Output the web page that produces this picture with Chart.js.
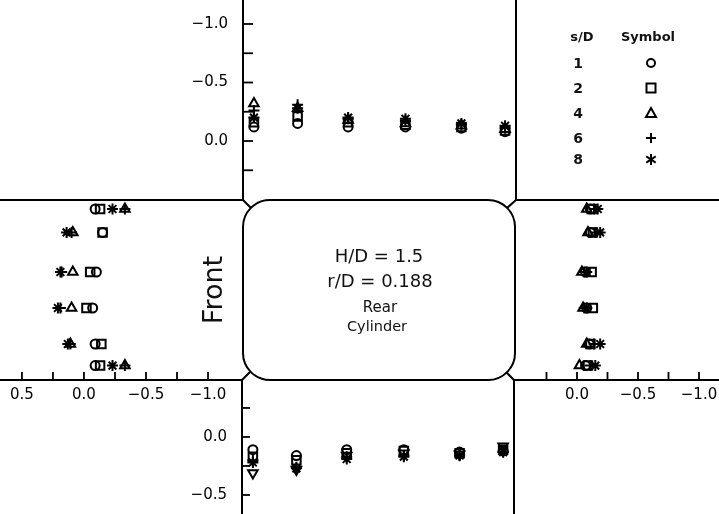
<!DOCTYPE html>
<html>
<head>
<meta charset="utf-8">
<script src="https://cdn.jsdelivr.net/npm/chart.js@4/dist/chart.umd.min.js"></script>
<style>
  html, body { margin: 0; padding: 0; background: #fff; }
  #wrap { position: relative; width: 719px; height: 514px; overflow: hidden; font-family: "DejaVu Sans", sans-serif; color: #111; }
  canvas { position: absolute; }
  svg { position: absolute; left: 0; top: 0; }
  .t { position: absolute; white-space: nowrap; transform: translate(-50%, -50%); }
</style>
</head>
<body>
<div id="wrap">
  <canvas id="topChart" width="323" height="200" style="left:193px;top:0px"></canvas>
  <canvas id="bottomChart" width="322" height="134" style="left:192px;top:380px"></canvas>
  <canvas id="frontChart" width="243" height="212" style="left:0px;top:200px"></canvas>
  <canvas id="rearChart" width="203" height="212" style="left:516px;top:200px"></canvas>

  <svg width="719" height="514" viewBox="0 0 719 514">
    <g fill="none" stroke="#000" stroke-width="2">
      <path d="M0,200 H243 M516,200 H719 M0,380 H242 M514,380 H719"/>
      <path d="M243,0 V200 M516,0 V200 M242,380 V514 M514,380 V514"/>
      <rect x="243" y="200" width="272" height="180" rx="27" ry="27"/>
      <path d="M243,200 L251,208 M516,200 L507,208 M242,380 L250,372 M514,380 L506,372"/>
    </g>
    <g fill="none" stroke="#000" stroke-width="2">
      <circle cx="651" cy="63" r="4"/>
      <rect x="646.5" y="83.5" width="9" height="9"/>
      <path d="M651,108 L656,117 L646,117 Z"/>
      <path d="M651,133 V143 M646,138 H656"/>
      <path d="M651,154 V165 M646.3,156.3 L655.7,162.7 M655.7,156.3 L646.3,162.7"/>
    </g>
  </svg>

  <div class="t" style="left:379px;top:255px;font-size:18px">H/D = 1.5</div>
  <div class="t" style="left:380px;top:280px;font-size:18px">r/D = 0.188</div>
  <div class="t" style="left:380px;top:307px;font-size:15px">Rear</div>
  <div class="t" style="left:377px;top:326px;font-size:14.5px">Cylinder</div>
  <div class="t" style="left:212px;top:290px;font-size:27px;transform:translate(-50%,-50%) rotate(-90deg)">Front</div>

  <div class="t" style="left:582px;top:36px;font-size:13px;font-weight:bold">s/D</div>
  <div class="t" style="left:648px;top:36px;font-size:13px;font-weight:bold">Symbol</div>
  <div id="legendNums"></div>
</div>

<script>
// series: s/D spacing ratio and the plotting symbol of each
const sD = ['1', '2', '4', '6', '8'];
const symbols = ['circle', 'rect', 'triangle', 'cross', 'star'];

// tap locations as fraction of face length (top/bottom faces: front->rear, side faces: top->bottom)
const faceStations = [0.04, 0.2, 0.385, 0.595, 0.8, 0.96];
const sideStations = [0.05, 0.18, 0.40, 0.60, 0.80, 0.92];

// mean Cp on the top face, one row per s/D
const topCp = [
  [-0.12, -0.15, -0.12, -0.12, -0.11, -0.08],
  [-0.16, -0.21, -0.16, -0.14, -0.12, -0.09],
  [-0.32, -0.28, -0.18, -0.15, -0.13, -0.10],
  [-0.26, -0.31, -0.19, -0.17, -0.14, -0.11],
  [-0.20, -0.28, -0.20, -0.19, -0.15, -0.13]
];
// bottom face
const bottomCp = [
  [-0.11, -0.16, -0.11, -0.11, -0.13, -0.12],
  [-0.17, -0.20, -0.14, -0.12, -0.14, -0.11],
  [-0.31, -0.28, -0.16, -0.14, -0.15, -0.08],
  [-0.20, -0.26, -0.17, -0.16, -0.16, -0.13],
  [-0.22, -0.27, -0.19, -0.17, -0.16, -0.13]
];
// front face (left)
const frontCp = [
  [-0.09, -0.15, -0.10, -0.07, -0.09, -0.09],
  [-0.13, -0.15, -0.05, -0.02, -0.14, -0.13],
  [-0.33, 0.09, 0.09, 0.10, 0.11, -0.33],
  [-0.33, 0.10, 0.18, 0.19, 0.11, -0.33],
  [-0.23, 0.14, 0.19, 0.21, 0.13, -0.23]
];
// rear face (right)
const rearCp = [
  [-0.11, -0.11, -0.07, -0.08, -0.10, -0.07],
  [-0.12, -0.13, -0.12, -0.13, -0.11, -0.09],
  [-0.08, -0.09, -0.04, -0.05, -0.08, -0.02],
  [-0.14, -0.15, -0.06, -0.06, -0.14, -0.11],
  [-0.17, -0.19, -0.08, -0.08, -0.19, -0.15]
];

// labelled ticks of each axis
const topTickLabels = [-1.0, -0.5, 0.0];
const bottomTickLabels = [0.0, -0.5];
const frontTickLabels = [0.5, 0.0, -0.5, -1.0];
const rearTickLabels = [0.0, -0.5, -1.0];

const markerRadius = [4.5, 6, 5.5, 5.5, 5.5];
const ink = '#000';
const tickFont = { family: 'DejaVu Sans', size: 15 };

// legend numbers
document.getElementById('legendNums').innerHTML = sD.map((s, i) =>
  `<div class="t" style="left:578px;top:${[63, 88, 113, 138, 159][i]}px;font-size:14px;font-weight:bold">${s}</div>`).join('');

const fmt = labels => v => labels.some(l => Math.abs(l - v) < 1e-6) ? (Math.abs(v) < 1e-6 ? '0.0' : v.toFixed(1).replace('-', '\u2212')) : '';

const inwardTicks = {
  id: 'inwardTicks',
  afterDraw(chart, args, opts) {
    const { ctx, chartArea: a } = chart;
    const s = chart.scales[opts.axis];
    ctx.save();
    ctx.strokeStyle = ink; ctx.lineWidth = 1.8;
    s.ticks.forEach(t => {
      const p = s.getPixelForValue(t.value);
      ctx.beginPath();
      if (s.isHorizontal()) {
        if (p < a.left + 3 || p > a.right - 3) return;
        ctx.moveTo(p, a.bottom); ctx.lineTo(p, a.bottom - opts.len);
      } else {
        if (p < a.top + 3 || p > a.bottom - 3) return;
        ctx.moveTo(a.left, p); ctx.lineTo(a.left + opts.len, p);
      }
      ctx.stroke();
    });
    ctx.restore();
  }
};

function datasets(cp, alongY, flipTri) {
  return sD.map((s, i) => ({
    label: 's/D = ' + s,
    data: cp[i].map((v, k) => alongY ? { x: v, y: sideStations[k] } : { x: faceStations[k], y: v }),
    pointStyle: symbols[i],
    rotation: flipTri && symbols[i] === 'triangle' ? 180 : 0,
    pointRadius: markerRadius[i],
    pointBorderWidth: 2,
    borderColor: ink,
    backgroundColor: 'rgba(0,0,0,0)',
    clip: false
  }));
}

function valueAxis(min, max, reverse, labels, lo, hi, horizontal) {
  return {
    type: 'linear', min, max, reverse,
    position: horizontal ? 'bottom' : 'left',
    grid: { display: false, drawTicks: false },
    border: { display: false },
    ticks: {
      stepSize: 0.25, includeBounds: false, autoSkip: false, maxRotation: 0,
      padding: horizontal ? 6 : 15, color: ink, font: tickFont,
      callback: fmt(labels)
    },
    afterBuildTicks: sc => { sc.ticks = sc.ticks.filter(t => t.value >= lo - 1e-6 && t.value <= hi + 1e-6); },
    afterFit: sc => {
      if (horizontal) sc.height = 32; else sc.width = 50;
      sc.paddingTop = 0; sc.paddingBottom = 0; sc.paddingLeft = 0; sc.paddingRight = 0;
    }
  };
}

function stationAxis(reverse) {
  return { type: 'linear', min: 0, max: 1, reverse, display: false };
}

function make(id, cp, alongY, flipTri, scales, tickAxis, tickLen) {
  return new Chart(document.getElementById(id), {
    type: 'scatter',
    data: { datasets: datasets(cp, alongY, flipTri) },
    options: {
      responsive: false, animation: false, devicePixelRatio: 1,
      layout: { padding: 0, autoPadding: false },
      plugins: { legend: { display: false }, tooltip: { enabled: false }, inwardTicks: { axis: tickAxis, len: tickLen } },
      scales
    },
    plugins: [inwardTicks]
  });
}

// top face: 0.0 at y=141, -1.0 at y=24 (negative upward)
make('topChart', topCp, false, false, {
  x: stationAxis(false),
  y: valueAxis(-1.205, 0.504, true, topTickLabels, -1.0, 0.25, false)
}, 'y', 10);

// bottom face: 0.0 at y=437, -0.5 at y=495 (negative downward)
make('bottomChart', bottomCp, false, true, {
  x: stationAxis(false),
  y: valueAxis(-0.664, 0.491, false, bottomTickLabels, -0.5, 0.25, false)
}, 'y', 8);

// front face: 0.0 at x=84, positive to the left
make('frontChart', frontCp, true, false, {
  x: valueAxis(-1.282, 0.677, true, frontTickLabels, -1.0, 0.5, true),
  y: stationAxis(true)
}, 'x', 8);

// rear face: 0.0 at x=577, negative to the right
make('rearChart', rearCp, true, false, {
  x: valueAxis(-1.164, 0.5, true, rearTickLabels, -1.0, 0.25, true),
  y: stationAxis(true)
}, 'x', 8);
</script>
</body>
</html>
